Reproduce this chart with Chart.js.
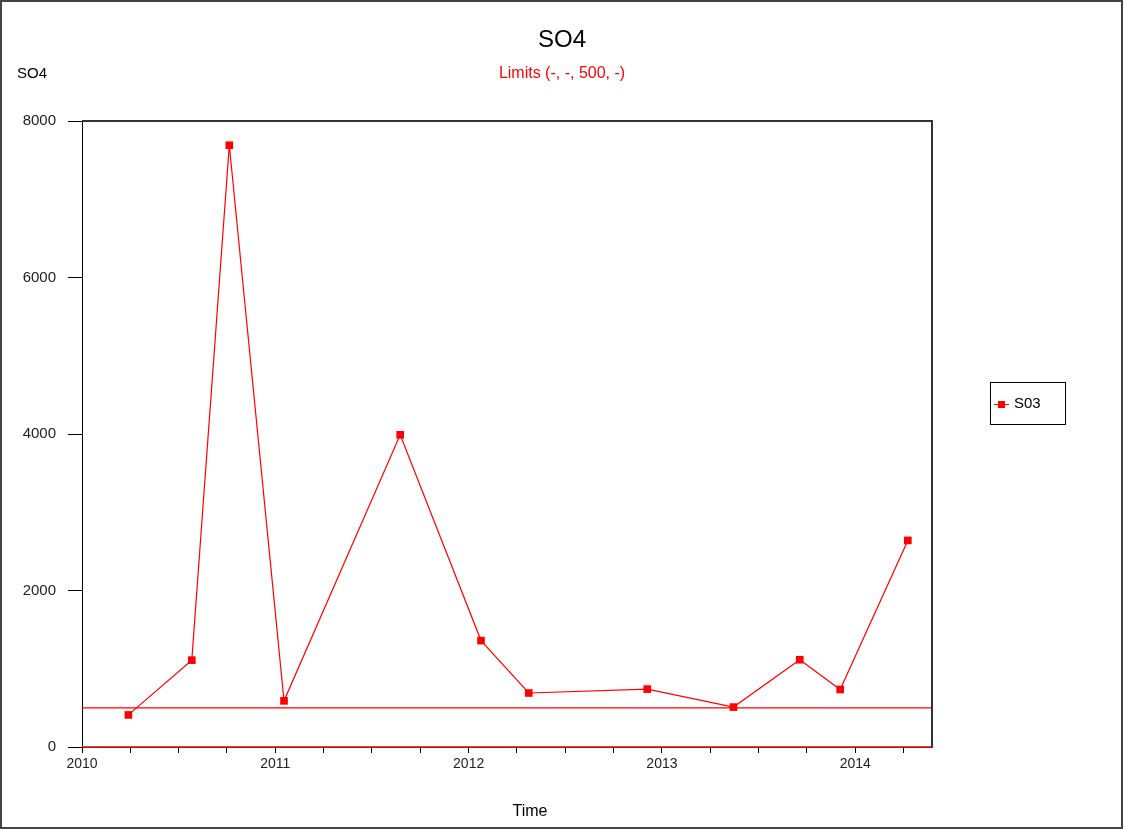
<!DOCTYPE html>
<html>
<head>
<meta charset="utf-8">
<script src="https://cdn.jsdelivr.net/npm/chart.js@4/dist/chart.umd.min.js"></script>
<style>
html,body{margin:0;padding:0;background:#fff;}
canvas{display:block;}
</style>
</head>
<body>
<canvas id="c" width="1124" height="830"></canvas>
<script>
// ---- data ----
const sampleTimes = [2010.240, 2010.568, 2010.762, 2011.045, 2011.646, 2012.064, 2012.311, 2012.924, 2013.370, 2013.713, 2013.922, 2014.272];
const so4Values   = [410, 1110, 7690, 590, 3990, 1360, 690, 740, 510, 1115, 735, 2640];
const seriesName  = 'S03';
const limitValue  = 500;
const xMin = 2010, xMax = 2014.397;
const yTicks = [0, 2000, 4000, 6000, 8000];
const titleText = 'SO4';
const subtitleText = 'Limits (-, -, 500, -)';
const yTitleText = 'SO4';
const xTitleText = 'Time';

const FONT = 'Arial, "Liberation Sans", sans-serif';

const points = sampleTimes.map((t, i) => ({x: t, y: so4Values[i]}));
const limitLine = [{x: xMin, y: limitValue}, {x: xMax, y: limitValue}];

const decor = {
  id: 'decor',
  afterDraw(chart) {
    const ctx = chart.ctx;
    const a = chart.chartArea;
    ctx.save();
    // outer frame
    ctx.strokeStyle = '#444';
    ctx.lineWidth = 2;
    ctx.strokeRect(1, 1, 1121, 827);
    // plot frame top & right
    ctx.strokeStyle = '#333';
    ctx.lineWidth = 2;
    ctx.beginPath();
    ctx.moveTo(a.left, a.top);
    ctx.lineTo(a.right, a.top);
    ctx.lineTo(a.right, a.bottom);
    ctx.stroke();
    // bottom red line at zero
    ctx.strokeStyle = '#d00000';
    ctx.lineWidth = 1.5;
    ctx.beginPath();
    ctx.moveTo(a.left, a.bottom);
    ctx.lineTo(a.right + 1, a.bottom);
    ctx.stroke();
    // axis titles
    ctx.fillStyle = '#000';
    ctx.textBaseline = 'middle';
    ctx.textAlign = 'left';
    ctx.font = '15px ' + FONT;
    ctx.fillText(yTitleText, 17, 74);
    ctx.font = '16px ' + FONT;
    ctx.textAlign = 'center';
    ctx.fillText(xTitleText, 530, 812);
    // legend
    ctx.strokeStyle = '#000';
    ctx.lineWidth = 1;
    ctx.strokeRect(990.5, 382.5, 75, 42);
    ctx.strokeStyle = '#ff0000';
    ctx.beginPath();
    ctx.moveTo(994, 404.5);
    ctx.lineTo(1009, 404.5);
    ctx.stroke();
    ctx.fillStyle = '#ff0000';
    ctx.fillRect(998, 401, 7, 7);
    ctx.fillStyle = '#000';
    ctx.textAlign = 'left';
    ctx.font = '15px ' + FONT;
    ctx.fillText(seriesName, 1014, 404);
    ctx.restore();
  }
};

new Chart(document.getElementById('c'), {
  type: 'line',
  data: {
    datasets: [
      {
        label: seriesName,
        data: points,
        borderColor: '#ff0000',
        backgroundColor: '#ff0000',
        borderWidth: 1.2,
        pointStyle: 'rect',
        pointRadius: 5.4,
        pointBorderWidth: 0,
        tension: 0,
        order: 1
      },
      {
        label: 'limit',
        data: limitLine,
        borderColor: '#ff0000',
        borderWidth: 1.2,
        pointRadius: 0,
        tension: 0,
        order: 2
      }
    ]
  },
  options: {
    responsive: false,
    animation: false,
    devicePixelRatio: 1,
    layout: {padding: {left: 0, right: 0, top: 0, bottom: 0}},
    plugins: {
      legend: {display: false},
      tooltip: {enabled: false},
      title: {
        display: true,
        text: titleText,
        color: '#000',
        font: {family: FONT, size: 24, weight: 'normal', lineHeight: 1.2},
        padding: {top: 26, bottom: 9}
      },
      subtitle: {
        display: true,
        text: subtitleText,
        color: '#ff0000',
        font: {family: FONT, size: 16, weight: 'normal', lineHeight: 1.2},
        padding: {top: 0, bottom: 38}
      }
    },
    scales: {
      x: {
        type: 'linear',
        min: xMin,
        max: xMax,
        afterBuildTicks(scale) {
          const t = [];
          for (let v = 2010; v <= 2014.26; v += 0.25) t.push({value: Math.round(v * 100) / 100});
          scale.ticks = t;
        },
        afterFit(scale) { scale.height = 83; },
        ticks: {
          autoSkip: false,
          maxRotation: 0,
          color: '#222',
          padding: 3,
          font: {family: FONT, size: 14},
          callback: (v) => Number.isInteger(v) ? String(v) : ''
        },
        grid: {drawOnChartArea: false, drawTicks: true, tickLength: 6, color: '#000', tickWidth: 1},
        border: {display: true, color: '#555', width: 1}
      },
      y: {
        type: 'linear',
        min: 0,
        max: 8000,
        afterBuildTicks(scale) { scale.ticks = yTicks.map(v => ({value: v})); },
        afterFit(scale) { scale.width = 82; },
        ticks: {
          color: '#222',
          padding: 12,
          font: {family: FONT, size: 15},
          callback: (v) => String(v)
        },
        grid: {drawOnChartArea: false, drawTicks: true, tickLength: 14, color: '#000', tickWidth: 1},
        border: {display: true, color: '#000', width: 1}
      },
      yRight: {
        type: 'linear',
        position: 'right',
        display: true,
        min: 0,
        max: 1,
        afterFit(scale) { scale.width = 192; },
        ticks: {display: false},
        grid: {display: false, drawTicks: false},
        border: {display: false}
      }
    }
  },
  plugins: [decor]
});
</script>
</body>
</html>
